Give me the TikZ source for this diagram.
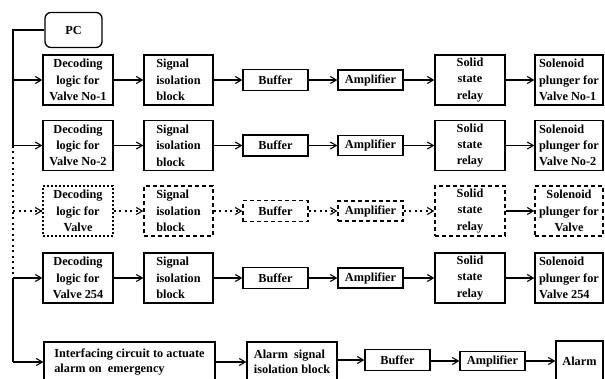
\documentclass[tikz,border=0pt]{standalone}
\usepackage{fontspec}
\setmainfont{Liberation Serif}
\usetikzlibrary{arrows.meta}
\begin{document}
\begin{tikzpicture}[x=1pt,y=-1pt,
  box/.style={draw, line width=1.3pt, inner sep=0pt, align=center,
    font=\bfseries\fontsize{12.3}{16.3}\selectfont},
  lbox/.style={box, align=left},
  dotbox/.style={dash pattern=on 1.6pt off 2.4pt},
  dashbox/.style={dash pattern=on 4pt off 3pt},
  arr/.style={line width=1.2pt, -{Straight Barb[length=6pt,width=7pt,line width=1.1pt]}},
  dasharr/.style={arr, dash pattern=on 2pt off 3.5pt},
  busline/.style={line width=1.3pt}]
\useasboundingbox (0,0) rectangle (605,378);
\clip (0,0) rectangle (605,378);
% PC
\node[box, rounded corners=6pt, minimum width=57pt, minimum height=35pt] (pc) at (73.5,30) {PC};
% columns
\foreach \r/\y/\lbl in {1/80/No-1, 2/145.5/No-2, 4/278/254}{
  \ifnum\r=4
    \node[box, minimum width=70pt, minimum height=50pt] (dec\r) at (78,\y) {Decoding\\logic for\\Valve 254};
    \node[lbox, minimum width=68pt, minimum height=50pt] (sol\r) at (569,\y) {Solenoid\\plunger for\\Valve 254};
  \else
    \node[box, minimum width=70pt, minimum height=50pt] (dec\r) at (78,\y) {Decoding\\logic for\\Valve \lbl};
    \node[lbox, minimum width=68pt, minimum height=50pt] (sol\r) at (569,\y) {Solenoid\\plunger for\\Valve \lbl};
  \fi
  \node[lbox, minimum width=69pt, minimum height=50pt] (sig\r) at (178.5,\y) {Signal\\isolation\\block};
  \node[box, minimum width=65pt, minimum height=21pt] (buf\r) at (275.5,\y) {Buffer};
  \node[box, minimum width=65pt, minimum height=20pt] (amp\r) at (370.5,\y) {Amplifier};
  \node[box, minimum width=70pt, minimum height=50pt] (ssr\r) at (470,\y) {Solid\\state\\relay};
  \coordinate (b\r) at (13,\y);
  \draw[arr] (b\r) -- (dec\r.west);
  \draw[arr] (dec\r.east) -- (sig\r.west);
  \draw[arr] (sig\r.east) -- (buf\r.west);
  \draw[arr] (buf\r.east) -- (amp\r.west);
  \draw[arr] (amp\r.east) -- (ssr\r.west);
  \draw[arr] (ssr\r.east) -- (sol\r.west);
}
% dashed row
\node[box, dotbox, minimum width=70pt, minimum height=50pt] (dec3) at (78,211) {Decoding\\logic for\\Valve};
\node[lbox, dashbox, minimum width=69pt, minimum height=50pt] (sig3) at (178.5,211) {Signal\\isolation\\block};
\node[box, dashbox, minimum width=65pt, minimum height=21pt] (buf3) at (275.5,211) {Buffer};
\node[box, dashbox, minimum width=65pt, minimum height=20pt] (amp3) at (370.5,211) {Amplifier};
\node[box, dashbox, minimum width=70pt, minimum height=50pt] (ssr3) at (470,211) {Solid\\state\\relay};
\node[box, dashbox, minimum width=68pt, minimum height=50pt] (sol3) at (569,211) {Solenoid\\plunger for\\Valve};
\coordinate (b3) at (13,211);
\draw[dasharr] (b3) -- (dec3.west);
\draw[dasharr] (dec3.east) -- (sig3.west);
\draw[dasharr] (sig3.east) -- (buf3.west);
\draw[dasharr] (buf3.east) -- (amp3.west);
\draw[dasharr] (amp3.east) -- (ssr3.west);
\draw[arr] (ssr3.east) -- (sol3.west);
% alarm row
\node[lbox, minimum width=171pt, minimum height=40pt, font=\bfseries\fontsize{12.3}{15}\selectfont] (intf) at (129.5,362) {Interfacing circuit to actuate\\alarm on\ \ emergency};
\node[lbox, minimum width=90pt, minimum height=40pt, font=\bfseries\fontsize{12.3}{15}\selectfont] (als) at (292,362) {Alarm\ \ signal\\isolation block};
\node[box, minimum width=65pt, minimum height=21pt] (buf5) at (397.5,360) {Buffer};
\node[box, minimum width=65pt, minimum height=19pt] (amp5) at (492.5,361) {Amplifier};
\node[box, minimum width=47pt, minimum height=40pt] (alarm) at (579.5,361) {Alarm};
\coordinate (b5) at (13,362);
\draw[arr] (b5) -- (intf.west);
\draw[arr] (intf.east) -- (als.west);
\draw[arr] (als.east |- buf5.west) -- (buf5.west);
\draw[arr] (buf5.east |- amp5.west) -- (amp5.west);
\draw[arr] (amp5.east) -- (amp5.east -| alarm.west);
% bus
\draw[busline] (pc.west) -| (b2);
\draw[busline, dash pattern=on 2pt off 3.5pt] (b2) -- (b4);
\draw[busline] (b4) -- (b5);
\end{tikzpicture}
\end{document}
